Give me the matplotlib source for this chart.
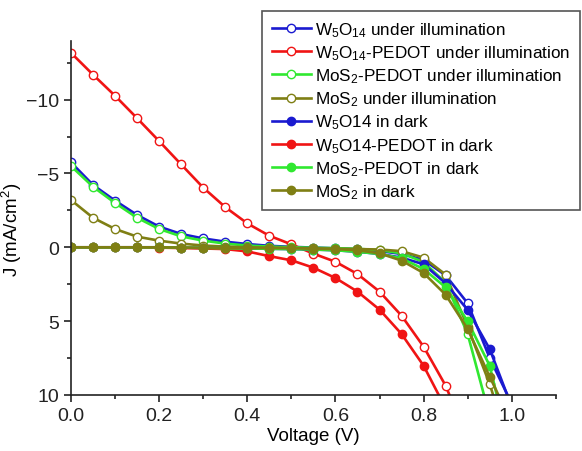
import numpy as np
import matplotlib
matplotlib.use('Agg')
import matplotlib.pyplot as plt

plt.rcParams['font.family'] = ['Liberation Sans', 'DejaVu Sans']
plt.rcParams['mathtext.fontset'] = 'custom'
plt.rcParams['mathtext.rm'] = 'Liberation Sans'
plt.rcParams['mathtext.it'] = 'Liberation Sans:italic'
plt.rcParams['mathtext.bf'] = 'Liberation Sans:bold'

#%% Datos (J-V, 0.05 V steps)
voltage = [0.00, 0.05, 0.10, 0.15, 0.20, 0.25, 0.30, 0.35, 0.40, 0.45, 0.50,
           0.55, 0.60, 0.65, 0.70, 0.75, 0.80, 0.85, 0.90, 0.95, 1.00]

w5o14_light = [-5.75, -4.22, -3.16, -2.19, -1.40, -0.90, -0.60, -0.38, -0.22, -0.10, -0.03,
               0.02, 0.07, 0.13, 0.25, 0.45, 0.85, 1.90, 3.79, 7.50, 10.6]
w5o14_pedot_light = [-13.17, -11.69, -10.26, -8.74, -7.19, -5.61, -4.04, -2.72, -1.62, -0.78, -0.20,
                     0.43, 0.98, 1.81, 3.00, 4.63, 6.73, 9.37, 13.0]
mos2_pedot_light = [-5.50, -4.10, -3.00, -2.00, -1.24, -0.74, -0.45, -0.25, -0.12, -0.05, 0.00,
                    0.03, 0.06, 0.10, 0.20, 0.40, 1.00, 2.40, 5.87, 11.45]
mos2_light = [-3.20, -2.00, -1.24, -0.72, -0.45, -0.25, -0.12, -0.05, 0.00, 0.03, 0.05,
              0.07, 0.10, 0.12, 0.15, 0.26, 0.70, 1.85, 5.40, 9.26, 14.0]

w5o14_dark = [0.00, 0.00, 0.00, 0.00, 0.00, 0.02, 0.04, 0.06, 0.08, 0.10, 0.12,
              0.15, 0.20, 0.30, 0.45, 0.70, 1.15, 2.44, 4.24, 6.89, 10.8]
w5o14_pedot_dark = [0.00, 0.00, 0.00, 0.00, 0.02, 0.05, 0.08, 0.12, 0.28, 0.60, 0.88,
                    1.38, 2.08, 3.00, 4.22, 5.87, 8.02, 10.9]
mos2_pedot_dark = [0.00, 0.00, 0.00, 0.00, 0.00, 0.02, 0.04, 0.06, 0.08, 0.10, 0.12,
                   0.15, 0.20, 0.30, 0.45, 0.75, 1.47, 2.71, 5.01, 8.02, 14.2]
mos2_dark = [0.00, 0.00, 0.00, 0.00, 0.00, 0.02, 0.03, 0.04, 0.05, 0.05, 0.06,
             0.10, 0.12, 0.20, 0.41, 0.90, 1.74, 3.21, 5.53, 8.76, 11.9]

labels = ['W$_5$O$_{14}$ under illumination',
          'W$_5$O$_{14}$-PEDOT under illumination',
          'MoS$_2$-PEDOT under illumination',
          'MoS$_2$ under illumination',
          'W$_5$O14 in dark',
          'W$_5$O14-PEDOT in dark',
          'MoS$_2$-PEDOT in dark',
          'MoS$_2$ in dark']

azul = '#1a1ad0'
rojo = '#f01414'
verde = '#30e830'
oliva = '#7f7f14'

series = [(w5o14_light, azul, False), (w5o14_pedot_light, rojo, False),
          (mos2_pedot_light, verde, False), (mos2_light, oliva, False),
          (w5o14_dark, azul, True), (w5o14_pedot_dark, rojo, True),
          (mos2_pedot_dark, verde, True), (mos2_dark, oliva, True)]

#%% Graficar
fig = plt.figure(figsize=(5.82, 4.52), dpi=100)
ax = fig.add_axes([0.122, 0.124, 0.833, 0.784])

for (j, c, lleno), lab in zip(series, labels):
    v = voltage[:len(j)]
    ax.plot(v, j, '-o', color=c, lw=1.9, ms=6,
            mfc=c if lleno else 'white', mec=c, mew=1.0,
            label=lab)

ax.set_xlim(0, 1.1)
ax.set_ylim(10, -14)
ax.set_xticks([0.0, 0.2, 0.4, 0.6, 0.8, 1.0])
ax.set_xticks(np.arange(0.1, 1.15, 0.2), minor=True)
ax.set_yticks([10, 5, 0, -5, -10])
ax.set_yticks([7.5, 2.5, -2.5, -7.5, -12.5], minor=True)
ax.set_xticklabels(['0.0', '0.2', '0.4', '0.6', '0.8', '1.0'])

for s in ['top', 'right']:
    ax.spines[s].set_visible(False)
for s in ['left', 'bottom']:
    ax.spines[s].set_linewidth(1.2)
    ax.spines[s].set_color('#222222')
ax.tick_params(which='major', direction='out', length=5, width=1.2, labelsize=14,
               colors='#222222')
ax.tick_params(which='minor', direction='out', length=3, width=1.2, colors='#222222')

ax.set_xlabel('Voltage (V)', fontsize=13.5, labelpad=2)
ax.set_ylabel('J (mA/cm$^2$)', fontsize=13.5)
ax.yaxis.set_label_coords(-0.097, 0.47)

leg = ax.legend(loc='upper right', bbox_to_anchor=(0.9966, 0.974),
                bbox_transform=fig.transFigure, borderaxespad=0,
                fontsize=12.3, frameon=True, fancybox=False,
                handlelength=2.3, handletextpad=0.25, labelspacing=0.26,
                borderpad=0.55)
leg.get_frame().set_edgecolor('#555555')
leg.get_frame().set_linewidth(1.2)
leg.get_frame().set_alpha(1)

fig.savefig('out.png', dpi=100)
